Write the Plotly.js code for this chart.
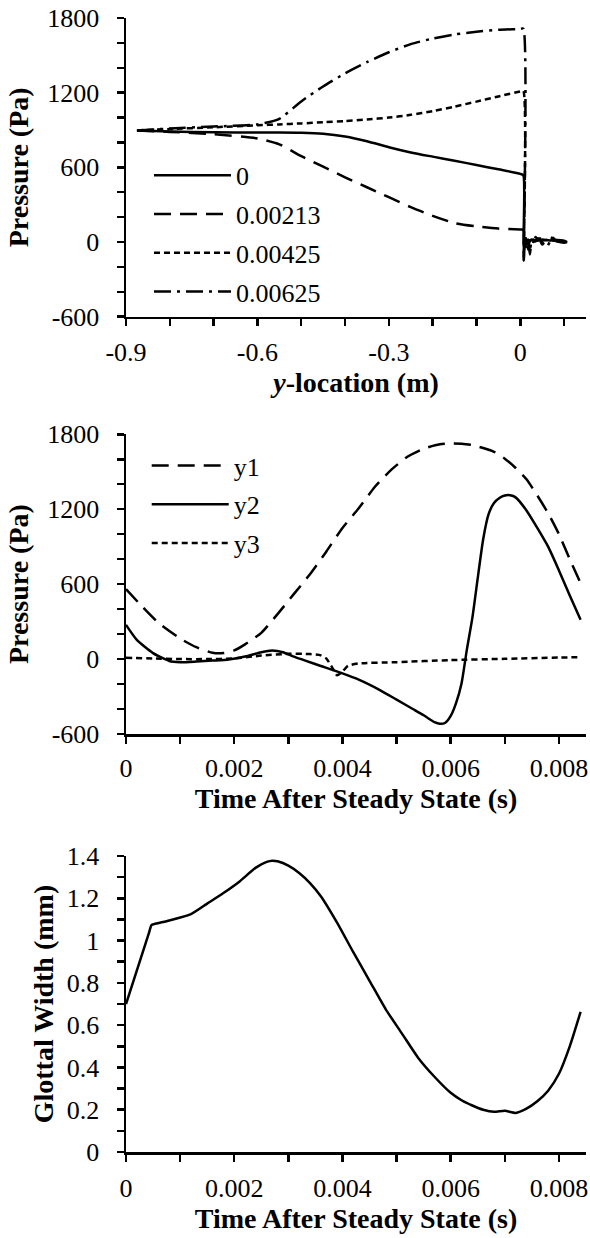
<!DOCTYPE html>
<html>
<head>
<meta charset="utf-8">
<script src="https://cdn.plot.ly/plotly-3.0.1.min.js"></script>
<style>html,body{margin:0;padding:0;background:#fff;}#chart{width:590px;height:1238px;}</style>
</head>
<body>
<div id="chart"></div>
<script>
// ---------- Panel 1: pressure along y-location ----------
const yLocation = [-0.875,-0.8,-0.7,-0.6,-0.55,-0.5,-0.45,-0.4,-0.35,-0.3,-0.25,-0.2,-0.15,-0.1,-0.05,0,0.007];
const p_0       = [897,888,882,880,880,878,870,848,810,762,720,686,653,619,584,548,536];
const p_00213   = [897,885,866,832,785,690,605,520,440,360,280,210,152,125,108,100,98];
const p_00425   = [897,908,922,938,945,953,962,972,985,1000,1022,1052,1088,1128,1170,1210,1215];
const p_00625   = [897,912,928,945,990,1130,1250,1355,1445,1525,1590,1635,1668,1690,1705,1712,1714];
const tailLoc0  = [0.008,0.012,0.02,0.03,0.04,0.05,0.06,0.07,0.08,0.09,0.1,0.107];
const tail_0    = [-30,10,15,12,18,14,16,12,18,15,10,0];
const tailLoc   = [0.008,0.01,0.013,0.018,0.022,0.026,0.03,0.035,0.04,0.045,0.05,0.06,0.07,0.075,0.08,0.09,0.1,0.107];
const tail_00213= [-120,20,-40,15,-100,10,20,5,30,15,-20,20,15,35,15,10,0,0];
const tail_00425= [-150,15,30,-60,10,20,10,40,15,10,20,15,40,10,20,15,5,5];
const tail_00625= [-150,10,-50,20,-80,15,0,15,10,30,0,-40,15,20,10,0,-5,0];
const names1 = ['0','0.00213','0.00425','0.00625'];
const xTicks1 = [-0.9,-0.6,-0.3,0];
const xTickText1 = ['-0.9','-0.6','-0.3','0'];
const pTicks = [-600,0,600,1200,1800];
const pTickText = ['-600','0','600','1200','1800'];

// ---------- Panel 2: pressure vs time ----------
const time_y1 = [0,0.0003,0.0006,0.001,0.0013,0.0016,0.0018,0.002,0.0022,0.0025,0.0028,0.0031,0.0034,0.0037,0.004,0.0043,0.0046,0.0049,0.0052,0.0055,0.0058,0.006,0.0062,0.0064,0.0066,0.0068,0.007,0.0072,0.0074,0.0076,0.0078,0.008,0.0082,0.0084];
const p_y1    = [560,420,290,165,95,50,48,70,118,210,360,520,680,860,1050,1207,1380,1515,1620,1685,1720,1727,1725,1714,1690,1660,1605,1530,1440,1310,1168,1000,800,608];
const time_y2 = [0,0.0002,0.0005,0.0008,0.001,0.0013,0.0016,0.0019,0.0022,0.0025,0.0027,0.0029,0.0031,0.0033,0.0036,0.004,0.0043,0.0047,0.005,0.0053,0.0055,0.0057,0.0058,0.0059,0.006,0.0061,0.0062,0.0063,0.0064,0.0065,0.0066,0.0067,0.0068,0.0069,0.007,0.0071,0.0072,0.0074,0.0076,0.0078,0.008,0.0082,0.0084];
const p_y2    = [274,154,48,-15,-25,-20,-12,-3,20,55,68,55,20,-10,-55,-115,-165,-250,-325,-400,-450,-505,-518,-510,-455,-350,-195,80,330,650,960,1160,1250,1290,1310,1312,1295,1190,1050,900,710,510,314];
const time_y3 = [0,0.0005,0.001,0.0015,0.002,0.0025,0.003,0.0034,0.0036,0.0037,0.0038,0.0039,0.004,0.0041,0.0043,0.005,0.006,0.007,0.008,0.0084];
const p_y3    = [10,5,0,0,5,28,42,40,30,5,-60,-130,-100,-55,-35,-25,-8,2,12,15];
const names2 = ['y1','y2','y3'];
const tTicks = [0,0.002,0.004,0.006,0.008];
const tTickText = ['0','0.002','0.004','0.006','0.008'];

// ---------- Panel 3: glottal width ----------
const time_w  = [0,0.00042,0.00047,0.00052,0.0008,0.0012,0.0015,0.0018,0.0021,0.0024,0.0026,0.0027,0.0028,0.003,0.0032,0.0034,0.0036,0.0039,0.0042,0.0045,0.0048,0.0051,0.0054,0.0057,0.006,0.0062,0.0064,0.0066,0.0068,0.007,0.0072,0.0074,0.0076,0.0078,0.008,0.0082,0.0084];
const width_w = [0.7,1.033,1.073,1.078,1.095,1.125,1.175,1.225,1.28,1.345,1.372,1.378,1.375,1.355,1.32,1.272,1.21,1.085,0.945,0.81,0.675,0.56,0.445,0.356,0.28,0.245,0.22,0.2,0.19,0.195,0.185,0.205,0.24,0.29,0.37,0.5,0.663];
const wTicks = [0,0.2,0.4,0.6,0.8,1,1.2,1.4];
const wTickText = ['0','0.2','0.4','0.6','0.8','1','1.2','1.4'];

const FONT = 'Liberation Serif';
const LW = 2.5;
const LONG = '17px,9px', SHORT = '6px,4px', DASHDOT = '17px,6px,3px,6px';
const SM = 0.6;

const traces = [
  {x: yLocation.concat(tailLoc0), y: p_0.concat(tail_0), name: names1[0], line:{color:'#000',width:LW,dash:'solid',shape:'spline',smoothing:SM}, legendgroup:'a'},
  {x: yLocation.concat(tailLoc), y: p_00213.concat(tail_00213), name: names1[1], line:{color:'#000',width:LW,dash:LONG,shape:'spline',smoothing:SM}, legendgroup:'b'},
  {x: yLocation.concat(tailLoc), y: p_00425.concat(tail_00425), name: names1[2], line:{color:'#000',width:LW,dash:SHORT,shape:'spline',smoothing:SM}, legendgroup:'c'},
  {x: yLocation.concat(tailLoc), y: p_00625.concat(tail_00625), name: names1[3], line:{color:'#000',width:LW,dash:DASHDOT,shape:'spline',smoothing:SM}, legendgroup:'d'},
  {x: time_y1, y: p_y1, name: names2[0], xaxis:'x2', yaxis:'y2', legend:'legend2', line:{color:'#000',width:LW,dash:LONG,shape:'spline',smoothing:SM}, legendgroup:'e'},
  {x: time_y2, y: p_y2, name: names2[1], xaxis:'x2', yaxis:'y2', legend:'legend2', line:{color:'#000',width:LW,dash:'solid',shape:'spline',smoothing:SM}, legendgroup:'f'},
  {x: time_y3, y: p_y3, name: names2[2], xaxis:'x2', yaxis:'y2', legend:'legend2', line:{color:'#000',width:LW,dash:SHORT,shape:'spline',smoothing:SM}, legendgroup:'g'},
  {x: time_w, y: width_w, xaxis:'x3', yaxis:'y3', showlegend:false, line:{color:'#000',width:LW,dash:'solid',shape:'spline',smoothing:SM}}
].map(t => Object.assign({type:'scatter', mode:'lines', hoverinfo:'skip'}, t));

function axisBase(extra){
  return Object.assign({
    showline:true, linecolor:'#000', linewidth:2.5, mirror:false,
    showgrid:false, zeroline:false,
    ticks:'outside', ticklen:7, tickwidth:2.5, tickcolor:'#000',
    tickfont:{family:FONT, size:26, color:'#000'},
    tickmode:'array', automargin:false,
    fixedrange:true
  }, extra);
}
const minorX = d => ({dtick:d, ticks:'outside', ticklen:7, tickwidth:2.5, tickcolor:'#000', showgrid:false});
const titleFont = {family:FONT, size:28, color:'#000', weight:'bold'};

const layout = {
  width:590, height:1238,
  margin:{l:126, r:4, t:18, b:86},
  paper_bgcolor:'#fff', plot_bgcolor:'#fff',
  showlegend:true,
  font:{family:FONT, color:'#000'},
  xaxis: axisBase({domain:[0,1], anchor:'y', range:[-0.9,0.15], tickvals:xTicks1, ticktext:xTickText1, ticklabelstandoff:4,
    minor:Object.assign(minorX(0.1),{tick0:-0.9}),
    title:{text:'<i>y</i>-location (m)', font:titleFont, standoff:0}}),
  yaxis: axisBase({domain:[0.7366,1], anchor:'x', range:[-600,1800], tickvals:pTicks, ticktext:pTickText, ticklabelstandoff:12,
    minor:Object.assign(minorX(200),{tick0:0}),
    title:{text:'Pressure (Pa)', font:titleFont, standoff:11}}),
  xaxis2: axisBase({domain:[0,1], anchor:'y2', range:[0,0.0085], tickvals:tTicks, ticktext:tTickText, ticklabelstandoff:2,
    minor:Object.assign(minorX(0.001),{tick0:0}),
    title:{text:'Time After Steady State (s)', font:titleFont, standoff:0}}),
  yaxis2: axisBase({domain:[0.3686,0.6329], anchor:'x2', range:[-600,1800], tickvals:pTicks, ticktext:pTickText, ticklabelstandoff:12,
    minor:Object.assign(minorX(200),{tick0:0}),
    title:{text:'Pressure (Pa)', font:titleFont, standoff:11}}),
  xaxis3: axisBase({domain:[0,1], anchor:'y3', range:[0,0.0085], tickvals:tTicks, ticktext:tTickText, ticklabelstandoff:4,
    minor:Object.assign(minorX(0.001),{tick0:0}),
    title:{text:'Time After Steady State (s)', font:titleFont, standoff:0}}),
  yaxis3: axisBase({domain:[0,0.261], anchor:'x3', range:[0,1.4], tickvals:wTicks, ticktext:wTickText, ticklabelstandoff:12,
    minor:Object.assign(minorX(0.1),{tick0:0}),
    title:{text:'Glottal Width (mm)', font:titleFont, standoff:5}}),
  legend:{x:0.05, y:0.882, xanchor:'left', yanchor:'top', bgcolor:'rgba(0,0,0,0)', borderwidth:0,
    font:{family:FONT, size:26, color:'#000'}, itemwidth:77, traceorder:'grouped', tracegroupgap:2},
  legend2:{x:0.045, y:0.626, xanchor:'left', yanchor:'top', bgcolor:'rgba(0,0,0,0)', borderwidth:0,
    font:{family:FONT, size:26, color:'#000'}, itemwidth:77, traceorder:'grouped', tracegroupgap:2}
};

Plotly.newPlot('chart', traces, layout, {staticPlot:true, displayModeBar:false});
</script>
</body>
</html>
